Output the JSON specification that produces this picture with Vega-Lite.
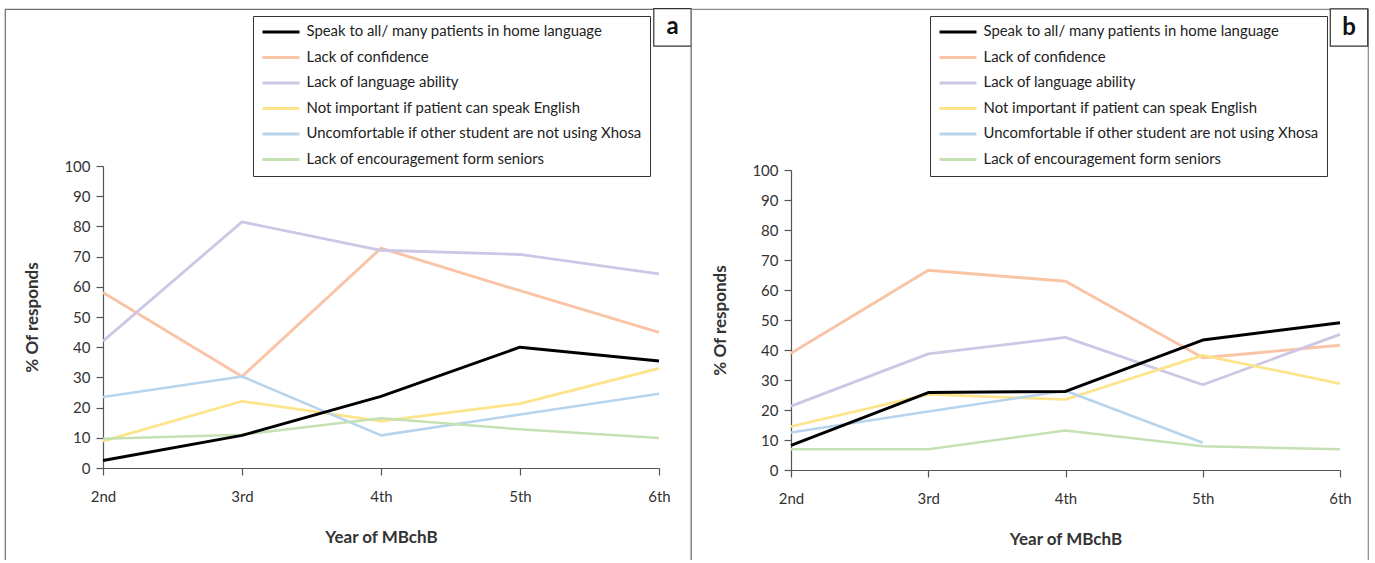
{
  "$schema": "https://vega.github.io/schema/vega-lite/v6.json",
  "padding": {"left": 4, "top": 5, "right": 0, "bottom": -10},
  "spacing": 0,
  "bounds": "flush",
  "config": {
    "font": "Lato",
    "axis": {"domainColor": "#555", "tickColor": "#555", "labelColor": "#333", "titleColor": "#333", "labelFontSize": 15, "titleFontSize": 17, "titleFontWeight": "bold", "grid": false, "tickSize": 7, "domainWidth": 1.2, "tickWidth": 1.2},
    "legend": {"clipHeight": 16, "rowPadding": 9.5, "padding": 8, "labelOffset": 5.5, "labelFontSize": 14.9, "labelColor": "#222", "labelLimit": 400, "symbolType": "stroke", "symbolSize": 1369, "symbolStrokeWidth": 3, "fillColor": "white", "strokeColor": "#333"}
  },
  "datasets": {
    "a": [
      {"year": "2nd", "series": "Lack of confidence", "value": 58.1},
      {"year": "3rd", "series": "Lack of confidence", "value": 30.3},
      {"year": "4th", "series": "Lack of confidence", "value": 72.8},
      {"year": "5th", "series": "Lack of confidence", "value": 58.7},
      {"year": "6th", "series": "Lack of confidence", "value": 44.9},
      {"year": "2nd", "series": "Lack of language ability", "value": 42.0},
      {"year": "3rd", "series": "Lack of language ability", "value": 81.5},
      {"year": "4th", "series": "Lack of language ability", "value": 72.1},
      {"year": "5th", "series": "Lack of language ability", "value": 70.7},
      {"year": "6th", "series": "Lack of language ability", "value": 64.3},
      {"year": "2nd", "series": "Not important if patient can speak English", "value": 8.9},
      {"year": "3rd", "series": "Not important if patient can speak English", "value": 22.1},
      {"year": "4th", "series": "Not important if patient can speak English", "value": 15.5},
      {"year": "5th", "series": "Not important if patient can speak English", "value": 21.3},
      {"year": "6th", "series": "Not important if patient can speak English", "value": 33.0},
      {"year": "2nd", "series": "Uncomfortable if other student are not using Xhosa", "value": 23.5},
      {"year": "3rd", "series": "Uncomfortable if other student are not using Xhosa", "value": 30.3},
      {"year": "4th", "series": "Uncomfortable if other student are not using Xhosa", "value": 10.8},
      {"year": "5th", "series": "Uncomfortable if other student are not using Xhosa", "value": 17.7},
      {"year": "6th", "series": "Uncomfortable if other student are not using Xhosa", "value": 24.6},
      {"year": "2nd", "series": "Lack of encouragement form seniors", "value": 9.7},
      {"year": "3rd", "series": "Lack of encouragement form seniors", "value": 11.0},
      {"year": "4th", "series": "Lack of encouragement form seniors", "value": 16.5},
      {"year": "5th", "series": "Lack of encouragement form seniors", "value": 12.8},
      {"year": "6th", "series": "Lack of encouragement form seniors", "value": 9.9},
      {"year": "2nd", "series": "Speak to all/ many patients in home language", "value": 2.5},
      {"year": "3rd", "series": "Speak to all/ many patients in home language", "value": 10.8},
      {"year": "4th", "series": "Speak to all/ many patients in home language", "value": 23.7},
      {"year": "5th", "series": "Speak to all/ many patients in home language", "value": 40.0},
      {"year": "6th", "series": "Speak to all/ many patients in home language", "value": 35.4}
    ],
    "b": [
      {"year": "2nd", "series": "Lack of confidence", "value": 38.9},
      {"year": "3rd", "series": "Lack of confidence", "value": 66.6},
      {"year": "4th", "series": "Lack of confidence", "value": 62.9},
      {"year": "5th", "series": "Lack of confidence", "value": 37.4},
      {"year": "6th", "series": "Lack of confidence", "value": 41.6},
      {"year": "2nd", "series": "Lack of language ability", "value": 21.3},
      {"year": "3rd", "series": "Lack of language ability", "value": 38.7},
      {"year": "4th", "series": "Lack of language ability", "value": 44.2},
      {"year": "5th", "series": "Lack of language ability", "value": 28.4},
      {"year": "6th", "series": "Lack of language ability", "value": 45.2},
      {"year": "2nd", "series": "Not important if patient can speak English", "value": 14.5},
      {"year": "3rd", "series": "Not important if patient can speak English", "value": 25.2},
      {"year": "4th", "series": "Not important if patient can speak English", "value": 23.5},
      {"year": "5th", "series": "Not important if patient can speak English", "value": 38.2},
      {"year": "6th", "series": "Not important if patient can speak English", "value": 28.8},
      {"year": "2nd", "series": "Uncomfortable if other student are not using Xhosa", "value": 12.5},
      {"year": "3rd", "series": "Uncomfortable if other student are not using Xhosa", "value": 19.5},
      {"year": "4th", "series": "Uncomfortable if other student are not using Xhosa", "value": 26.4},
      {"year": "5th", "series": "Uncomfortable if other student are not using Xhosa", "value": 9.1},
      {"year": "2nd", "series": "Lack of encouragement form seniors", "value": 6.9},
      {"year": "3rd", "series": "Lack of encouragement form seniors", "value": 6.9},
      {"year": "4th", "series": "Lack of encouragement form seniors", "value": 13.2},
      {"year": "5th", "series": "Lack of encouragement form seniors", "value": 7.9},
      {"year": "6th", "series": "Lack of encouragement form seniors", "value": 6.9},
      {"year": "2nd", "series": "Speak to all/ many patients in home language", "value": 8.2},
      {"year": "3rd", "series": "Speak to all/ many patients in home language", "value": 25.8},
      {"year": "4th", "series": "Speak to all/ many patients in home language", "value": 26.2},
      {"year": "5th", "series": "Speak to all/ many patients in home language", "value": 43.3},
      {"year": "6th", "series": "Speak to all/ many patients in home language", "value": 49.1}
    ],
    "labA": [{"label": "a"}],
    "labB": [{"label": "b"}]
  },
  "resolve": {"legend": {"color": "independent"}, "scale": {"x": "independent", "y": "independent"}},
  "hconcat": [
    {
      "width": 686,
      "height": 560,
      "view": {"stroke": "#6e6e6e", "strokeWidth": 1.2},
      "layer": [
        {
          "data": {"name": "a"},
          "mark": {"type": "line", "strokeJoin": "round"},
          "encoding": {
            "x": {"field": "year", "type": "ordinal", "sort": ["2nd", "3rd", "4th", "5th", "6th"],
                  "scale": {"type": "point", "padding": 0, "range": [98, 654]},
                  "axis": {"title": "Year of MBchB", "labelAngle": 0, "offset": -101, "labelPadding": 14, "titlePadding": 25}},
            "y": {"field": "value", "type": "quantitative",
                  "scale": {"domain": [0, 100], "range": [459, 157], "nice": false, "zero": false},
                  "axis": {"title": "% Of responds", "values": [0,10,20,30,40,50,60,70,80,90,100], "offset": -98, "labelPadding": 6, "titlePadding": 22}},
            "color": {"field": "series", "type": "nominal",
                      "scale": {"domain": ["Speak to all/ many patients in home language", "Lack of confidence", "Lack of language ability", "Not important if patient can speak English", "Uncomfortable if other student are not using Xhosa", "Lack of encouragement form seniors"],
                                "range": ["#000000", "#f9c4a6", "#cdc6e4", "#fde48b", "#b7d4ec", "#c5e0b3"]},
                      "legend": {"title": null, "orient": "none", "legendX": 248, "legendY": 7, "direction": "vertical"}},
            "strokeWidth": {"field": "series", "type": "nominal", "legend": null,
                      "scale": {"domain": ["Speak to all/ many patients in home language", "Lack of confidence", "Lack of language ability", "Not important if patient can speak English", "Uncomfortable if other student are not using Xhosa", "Lack of encouragement form seniors"],
                                "range": [3, 2.5, 2.5, 2.5, 2.5, 2.5]}}
          }
        },
        {
          "data": {"name": "labA"},
          "mark": {"type": "point", "shape": "square", "size": 1400, "filled": true, "fill": "white", "stroke": "#333", "strokeWidth": 1.2, "xOffset": 13.5, "opacity": 1},
          "encoding": {"x": {"datum": "6th"}, "y": {"datum": 145.9}}
        },
        {
          "data": {"name": "labA"},
          "mark": {"type": "text", "fontSize": 24, "fontWeight": "bold", "color": "#111", "xOffset": 13.5, "baseline": "middle", "align": "center"},
          "encoding": {"x": {"datum": "6th"}, "y": {"datum": 145.9}, "text": {"field": "label"}}
        }
      ]
    },
    {
      "width": 677,
      "height": 560,
      "view": {"stroke": "#888", "strokeWidth": 1.2},
      "layer": [
        {
          "data": {"name": "b"},
          "mark": {"type": "line", "strokeJoin": "round"},
          "encoding": {
            "x": {"field": "year", "type": "ordinal", "sort": ["2nd", "3rd", "4th", "5th", "6th"],
                  "scale": {"type": "point", "padding": 0, "range": [100, 649]},
                  "axis": {"title": "Year of MBchB", "labelAngle": 0, "offset": -99, "labelPadding": 14, "titlePadding": 25}},
            "y": {"field": "value", "type": "quantitative",
                  "scale": {"domain": [0, 100], "range": [461, 161], "nice": false, "zero": false},
                  "axis": {"title": "% Of responds", "values": [0,10,20,30,40,50,60,70,80,90,100], "offset": -100, "labelPadding": 6, "titlePadding": 22}},
            "color": {"field": "series", "type": "nominal",
                      "scale": {"domain": ["Speak to all/ many patients in home language", "Lack of confidence", "Lack of language ability", "Not important if patient can speak English", "Uncomfortable if other student are not using Xhosa", "Lack of encouragement form seniors"],
                                "range": ["#000000", "#f9c4a6", "#cdc6e4", "#fde48b", "#b7d4ec", "#c5e0b3"]},
                      "legend": {"title": null, "orient": "none", "legendX": 239, "legendY": 7, "direction": "vertical"}},
            "strokeWidth": {"field": "series", "type": "nominal", "legend": null,
                      "scale": {"domain": ["Speak to all/ many patients in home language", "Lack of confidence", "Lack of language ability", "Not important if patient can speak English", "Uncomfortable if other student are not using Xhosa", "Lack of encouragement form seniors"],
                                "range": [3, 2.5, 2.5, 2.5, 2.5, 2.5]}}
          }
        },
        {
          "data": {"name": "labB"},
          "mark": {"type": "point", "shape": "square", "size": 1400, "filled": true, "fill": "white", "stroke": "#333", "strokeWidth": 1.2, "xOffset": 9, "opacity": 1},
          "encoding": {"x": {"datum": "6th"}, "y": {"datum": 147.5}}
        },
        {
          "data": {"name": "labB"},
          "mark": {"type": "text", "fontSize": 24, "fontWeight": "bold", "color": "#111", "xOffset": 9, "baseline": "middle", "align": "center"},
          "encoding": {"x": {"datum": "6th"}, "y": {"datum": 147.5}, "text": {"field": "label"}}
        }
      ]
    }
  ]
}
